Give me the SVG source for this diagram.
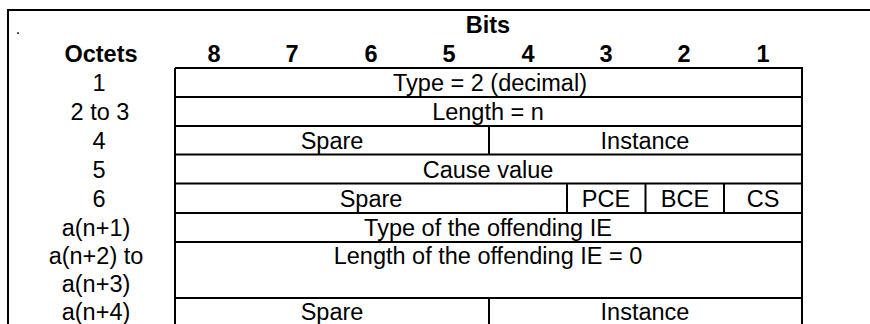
<svg xmlns="http://www.w3.org/2000/svg" width="870" height="324" viewBox="0 0 870 324">
<style>
.ln{stroke:#000;stroke-width:2;fill:none}
text{font-family:"Liberation Sans",Arial,sans-serif;font-size:23.5px;fill:#000;text-anchor:middle}
.b{font-weight:bold}
</style>
<rect x="0" y="0" width="870" height="324" fill="#fff"/>
<g id="frame">
<path class="ln" d="M8,324 V10 H870"/>
<text x="18" y="34" style="font-size:16px">.</text>
</g>
<g id="header">
<text class="b" x="488" y="33">Bits</text>
<text class="b" x="101" y="62">Octets</text>
<text class="b" x="214" y="62">8</text>
<text class="b" x="292" y="62">7</text>
<text class="b" x="371" y="62">6</text>
<text class="b" x="449" y="62">5</text>
<text class="b" x="528" y="62">4</text>
<text class="b" x="606" y="62">3</text>
<text class="b" x="684" y="62">2</text>
<text class="b" x="763" y="62">1</text>
</g>
<g id="octets">
<text x="99" y="91">1</text>
<text x="100" y="120">2 to 3</text>
<text x="99" y="149">4</text>
<text x="99" y="178">5</text>
<text x="99" y="207">6</text>
<text x="96" y="236">a(n+1)</text>
<text x="96" y="264">a(n+2) to</text>
<text x="96" y="292">a(n+3)</text>
<text x="96" y="320">a(n+4)</text>
</g>
<g id="table">
<path class="ln" d="M175,68 H802 V324 M175,68 V324 M175,97 H802 M175,126 H802 M175,154.5 H802 M175,183.5 H802 M175,213 H802 M175,242 H802 M175,298 H802 M489,126 V154.5 M489,298 V324 M567,183.5 V213 M645.5,183.5 V213 M724,183.5 V213"/>
</g>
<g id="cells">
<text x="490" y="91">Type = 2 (decimal)</text>
<text x="488" y="120">Length = n</text>
<text x="332" y="149">Spare</text>
<text x="645" y="149">Instance</text>
<text x="488" y="178">Cause value</text>
<text x="371" y="207">Spare</text>
<text x="606" y="207">PCE</text>
<text x="685" y="207">BCE</text>
<text x="763" y="207">CS</text>
<text x="488" y="236">Type of the offending IE</text>
<text x="488" y="264">Length of the offending IE = 0</text>
<text x="332" y="320">Spare</text>
<text x="645" y="320">Instance</text>
</g>
</svg>
